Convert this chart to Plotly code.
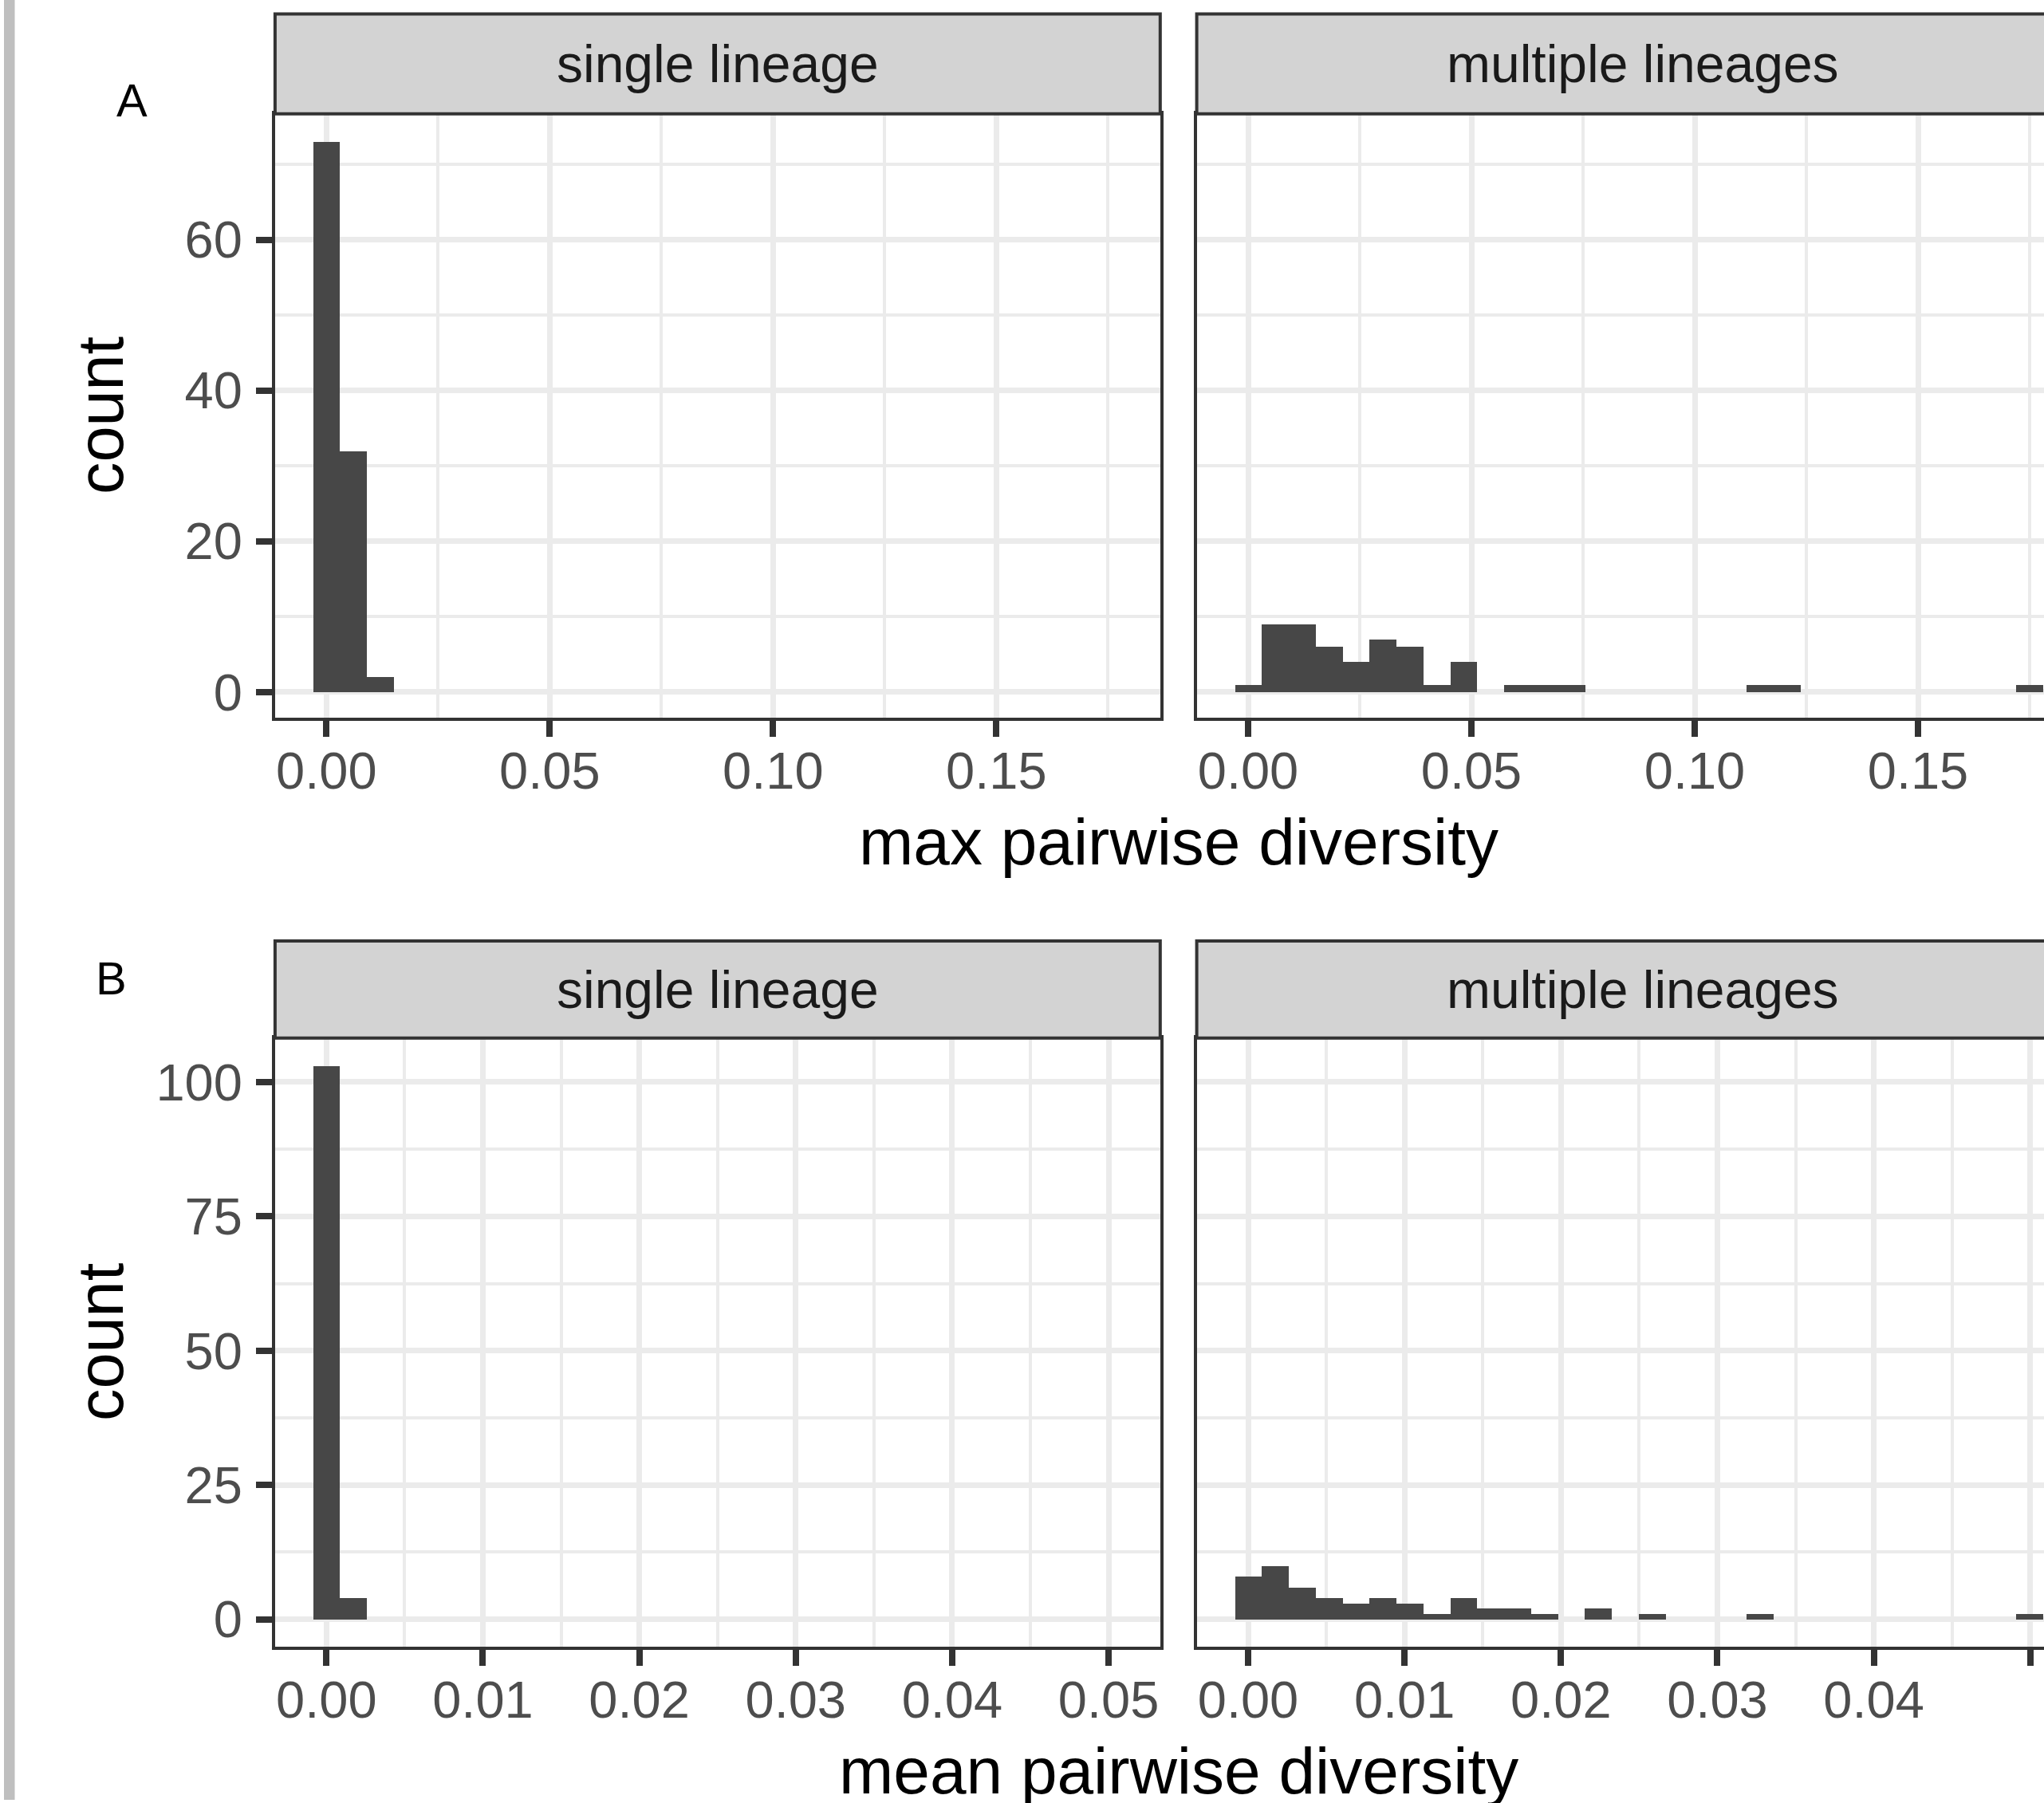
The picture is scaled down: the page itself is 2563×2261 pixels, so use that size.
import plotly.graph_objects as go

# ---------------- data ----------------
facet_labels = ["single lineage", "multiple lineages"]
x_titles = ["max pairwise diversity", "mean pairwise diversity"]
y_title = "count"
panel_tags = ["A", "B"]

# histogram bin widths (30 bins from 0 to the max value)
bin_width_max = 0.00603
bin_width_mean = 0.0017215

single_max_counts = [73, 32, 2]
multi_max_counts = [1, 9, 9, 6, 4, 7, 6, 1, 4, 0, 1, 1, 1, 0, 0, 0, 0, 0, 0,
                    1, 1, 0, 0, 0, 0, 0, 0, 0, 0, 1]
single_mean_counts = [103, 4]
multi_mean_counts = [8, 10, 6, 4, 3, 4, 3, 1, 4, 2, 2, 1, 0, 2, 0, 1, 0, 0, 0,
                     1, 0, 0, 0, 0, 0, 0, 0, 0, 0, 1]

# ---------------- layout geometry ----------------
W, H = 2563, 2261
FONT = "Liberation Sans, Arial, Helvetica, sans-serif"
BAR = "#474747"
GRID = "#EBEBEB"
BORDER = "#333333"
STRIP = "#D3D3D3"


def fx(p):
    return p / W


def fy(p):
    return 1 - p / H


xl = [fx(344.9), fx(1454.8)]
xr = [fx(1500.6), 1.0]
yA = [fy(902), fy(143)]
yB = [fy(2069), fy(1304)]

fig = go.Figure()

panels = [
    # axis suffix, counts, bin width, x dom, y dom, x range, y range, xdtick, ydtick, left?
    ("", single_max_counts, bin_width_max, xl, yA, [-0.0115, 0.1867], [-3.45, 76.7], 0.05, 20, True),
    ("2", multi_max_counts, bin_width_max, xr, yA, [-0.0115, -0.0115 + (2563 - 1500.6) / 5600], [-3.45, 76.7], 0.05, 20, False),
    ("3", single_mean_counts, bin_width_mean, xl, yB, [-0.003283, 0.053302], [-5.15, 108.2], 0.01, 25, True),
    ("4", multi_mean_counts, bin_width_mean, xr, yB, [-0.003283, -0.003283 + (2563 - 1500.6) / 19615], [-5.15, 108.2], 0.01, 25, False),
]

tickfont = dict(family=FONT, size=65, color="#4D4D4D")

for suf, counts, bw, xd, yd, xrng, yrng, xdt, ydt, left in panels:
    centers = [i * bw for i in range(len(counts))]
    fig.add_trace(go.Bar(
        x=centers, y=counts, width=[bw] * len(counts),
        marker=dict(color=BAR, line=dict(width=0)),
        xaxis="x" + suf, yaxis="y" + suf, showlegend=False,
    ))
    xa = dict(
        domain=xd, range=xrng, anchor="y" + suf,
        tickmode="linear", tick0=0, dtick=xdt, tickformat=".2f",
        ticks="outside", ticklen=20, tickwidth=8, tickcolor=BORDER,
        showline=True, linecolor=BORDER, linewidth=4, mirror=True,
        showgrid=True, gridcolor=GRID, gridwidth=7, zeroline=False,
        minor=dict(tickmode="linear", tick0=0, dtick=xdt / 2, showgrid=True,
                   gridcolor=GRID, gridwidth=3.5, ticks=""),
        tickfont=tickfont, ticklabelstandoff=-13,
    )
    ya = dict(
        domain=yd, range=yrng, anchor="x" + suf,
        tickmode="linear", tick0=0, dtick=ydt,
        ticks="outside" if left else "", ticklen=20, tickwidth=8, tickcolor=BORDER,
        showticklabels=left,
        showline=True, linecolor=BORDER, linewidth=4, mirror=left,
        showgrid=True, gridcolor=GRID, gridwidth=7, zeroline=False,
        minor=dict(tickmode="linear", tick0=0, dtick=ydt / 2, showgrid=True,
                   gridcolor=GRID, gridwidth=3.5, ticks=""),
        tickfont=tickfont, ticklabelstandoff=4,
    )
    fig.update_layout(**{"xaxis" + suf: xa, "yaxis" + suf: ya})

shapes = []
annotations = []

# grey bar at the left edge
shapes.append(dict(type="rect", xref="paper", yref="paper", x0=fx(5), x1=fx(18.5), y0=0, y1=1,
                   fillcolor="#BFBFBF", line=dict(width=0), layer="above"))

# facet strips
strip_rows = [(fy(143), fy(17.5)), (fy(1304), fy(1182))]
for (s0, s1) in strip_rows:
    for j, (x0, x1) in enumerate([(xl[0], xl[1]), (xr[0], fx(2620))]):
        shapes.append(dict(type="rect", xref="paper", yref="paper", x0=x0, x1=x1, y0=s0, y1=s1,
                           fillcolor=STRIP, line=dict(color=BORDER, width=4), layer="above"))
        cx = (x0 + x1) / 2
        annotations.append(dict(xref="paper", yref="paper", x=cx, y=(s0 + s1) / 2,
                                text=facet_labels[j], showarrow=False, xanchor="center", yanchor="middle",
                                font=dict(family=FONT, size=66, color="#1A1A1A")))

# x axis titles (centred over both panels)
x_center = fx((344.9 + 1500.6 + 1110) / 2)
for t, ypx in zip(x_titles, [1057, 2224]):
    annotations.append(dict(xref="paper", yref="paper", x=x_center, y=fy(ypx), text=t,
                            showarrow=False, xanchor="center", yanchor="middle",
                            font=dict(family=FONT, size=82, color="black")))

# y axis titles
for ypx in [522, 1686]:
    annotations.append(dict(xref="paper", yref="paper", x=fx(126), y=fy(ypx), text=y_title,
                            showarrow=False, xanchor="center", yanchor="middle", textangle=-90,
                            font=dict(family=FONT, size=81, color="black")))

# panel tags
for tag, (px_, py_) in zip(panel_tags, [(165, 126), (139, 1229)]):
    annotations.append(dict(xref="paper", yref="paper", x=fx(px_), y=fy(py_), text=tag,
                            showarrow=False, xanchor="center", yanchor="middle",
                            font=dict(family=FONT, size=58, color="black")))

fig.update_layout(
    width=W, height=H, margin=dict(l=0, r=0, t=0, b=0),
    paper_bgcolor="white", plot_bgcolor="white",
    bargap=0, shapes=shapes, annotations=annotations,
)

fig.write_html("out.html", config={"displayModeBar": False},
               post_script="document.body.style.margin='0px';document.body.style.overflow='hidden';")
